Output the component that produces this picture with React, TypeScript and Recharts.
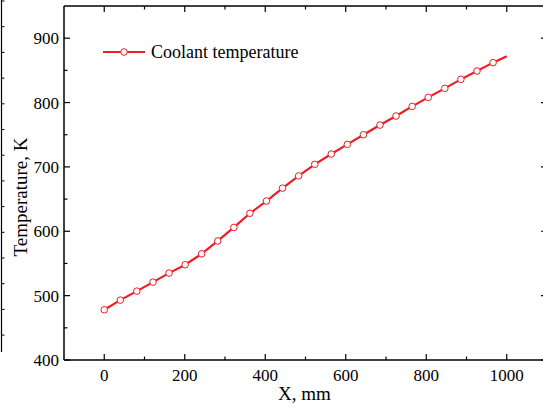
import React from "react";
import { LineChart, Line, XAxis, YAxis, Legend } from "recharts";

// Data
const positions = [0, 40, 81, 121, 161, 201, 242, 282, 322, 362, 403, 443, 483, 523, 564, 604, 644, 685, 725, 765, 805, 846, 886, 926, 966, 1000];
const temperatures = [478, 493, 507, 521, 535, 548, 565, 585, 606, 628, 647, 667, 686, 704, 720, 735, 750, 765, 779, 794, 808, 822, 836, 849, 862, 872];
const xTicks = [0, 100, 200, 300, 400, 500, 600, 700, 800, 900, 1000];
const xLabelTicks = [0, 200, 400, 600, 800, 1000];
const yTicks = [400, 450, 500, 550, 600, 650, 700, 750, 800, 850, 900];
const yLabelTicks = [400, 500, 600, 700, 800, 900];
const seriesName = "Coolant temperature";

const data = positions.map((x, i) => ({ x, temp: temperatures[i] }));

const RED = "#ee1c24";
const FONT = "'Liberation Serif', 'Times New Roman', serif";

const BottomTick = (props: any) => {
  const { x, y, payload } = props;
  const major = xLabelTicks.includes(payload.value);
  return (
    <g>
      <line x1={x} x2={x} y1={y} y2={y - (major ? 6 : 3.5)} stroke="#000" strokeWidth={1.2} />
      {major && (
        <text x={x} y={y + 21} textAnchor="middle" fontFamily={FONT} fontSize={17} fill="#000">
          {payload.value}
        </text>
      )}
    </g>
  );
};

const TopTick = (props: any) => {
  const { x, y, payload } = props;
  const major = xLabelTicks.includes(payload.value);
  return <line x1={x} x2={x} y1={y} y2={y + (major ? 6 : 3.5)} stroke="#000" strokeWidth={1.2} />;
};

const LeftTick = (props: any) => {
  const { x, y, payload } = props;
  const major = yLabelTicks.includes(payload.value);
  return (
    <g>
      <line x1={x} x2={x + (major ? 6 : 3.5)} y1={y} y2={y} stroke="#000" strokeWidth={1.2} />
      {major && (
        <text x={x - 5} y={y + 6} textAnchor="end" fontFamily={FONT} fontSize={17} fill="#000">
          {payload.value}
        </text>
      )}
    </g>
  );
};

const RightTick = (props: any) => {
  const { x, y, payload } = props;
  const major = yLabelTicks.includes(payload.value);
  return <line x1={x} x2={x - (major ? 6 : 3.5)} y1={y} y2={y} stroke="#000" strokeWidth={1.2} />;
};

const Marker = (props: any) => {
  const { cx, cy, index } = props;
  if (index === data.length - 1 || cx == null || cy == null) return <g key={`m${index}`} />;
  return <circle key={`m${index}`} cx={cx} cy={cy} r={3.3} fill="#fff" stroke={RED} strokeWidth={1} />;
};

const LegendContent = () => (
  <svg width={220} height={24} style={{ overflow: "visible", display: "block" }}>
    <line x1={0} x2={42} y1={12} y2={12} stroke={RED} strokeWidth={2} />
    <circle cx={21} cy={12} r={3.3} fill="#fff" stroke={RED} strokeWidth={1} />
    <text x={48} y={18} fontFamily={FONT} fontSize={18} fill="#000">
      {seriesName}
    </text>
  </svg>
);

export default function App() {
  return (
    <div style={{ position: "absolute", left: 0, top: 0, width: 543, height: 412, overflow: "hidden", background: "#fff" }}>
      <svg width={10} height={360} style={{ position: "absolute", left: 0, top: 0 }}>
        <line x1={1.5} x2={1.5} y1={0} y2={352} stroke="#000" strokeWidth={1.2} />
        {Array.from({ length: 14 }, (_, k) => (
          <line key={k} x1={1.5} x2={4.5} y1={1 + k * 25.7} y2={1 + k * 25.7} stroke="#000" strokeWidth={1} />
        ))}
      </svg>
      <div style={{ position: "absolute", left: 0, top: 0 }}>
        <LineChart width={560} height={412} data={data} margin={{ top: 5, left: 4, right: 12, bottom: 22 }}>
          <XAxis
            dataKey="x"
            type="number"
            domain={[-100, 1100]}
            ticks={xTicks}
            interval={0}
            height={30}
            tickSize={0}
            tickMargin={0}
            tickLine={false}
            tick={<BottomTick />}
            axisLine={{ stroke: "#000", strokeWidth: 1.5 }}
            allowDataOverflow
          />
          <XAxis
            xAxisId="top"
            orientation="top"
            dataKey="x"
            type="number"
            domain={[-100, 1100]}
            ticks={xTicks}
            interval={0}
            height={1}
            tickSize={0}
            tickMargin={0}
            tickLine={false}
            tick={<TopTick />}
            axisLine={{ stroke: "#000", strokeWidth: 1.5 }}
            allowDataOverflow
          />
          <YAxis
            type="number"
            domain={[400, 950]}
            ticks={yTicks}
            interval={0}
            width={60}
            tickSize={0}
            tickMargin={0}
            tickLine={false}
            tick={<LeftTick />}
            axisLine={{ stroke: "#000", strokeWidth: 1.5 }}
            allowDataOverflow
          />
          <YAxis
            yAxisId="right"
            orientation="right"
            type="number"
            domain={[400, 950]}
            ticks={yTicks}
            interval={0}
            width={1}
            tickSize={0}
            tickMargin={0}
            tickLine={false}
            tick={<RightTick />}
            axisLine={{ stroke: "#000", strokeWidth: 1.5 }}
            allowDataOverflow
          />
          <Legend
            layout="horizontal"
            verticalAlign="middle"
            align="center"
            content={<LegendContent />}
            wrapperStyle={{ position: "absolute", left: 103, top: 40, width: 220, height: 24 }}
          />
          <Line
            type="linear"
            dataKey="temp"
            name={seriesName}
            stroke={RED}
            strokeWidth={2.2}
            dot={<Marker />}
            activeDot={false}
            isAnimationActive={false}
          />
        </LineChart>
      </div>
      <div
        style={{
          position: "absolute",
          left: 278,
          top: 384,
          fontFamily: FONT,
          fontSize: 19,
          lineHeight: "20px",
          color: "#000",
          whiteSpace: "nowrap",
        }}
      >
        X, mm
      </div>
      <div
        style={{
          position: "absolute",
          left: 21,
          top: 197,
          transform: "translate(-50%, -50%) rotate(-90deg)",
          fontFamily: FONT,
          fontSize: 19,
          lineHeight: "20px",
          color: "#000",
          whiteSpace: "nowrap",
        }}
      >
        Temperature, K
      </div>
    </div>
  );
}
